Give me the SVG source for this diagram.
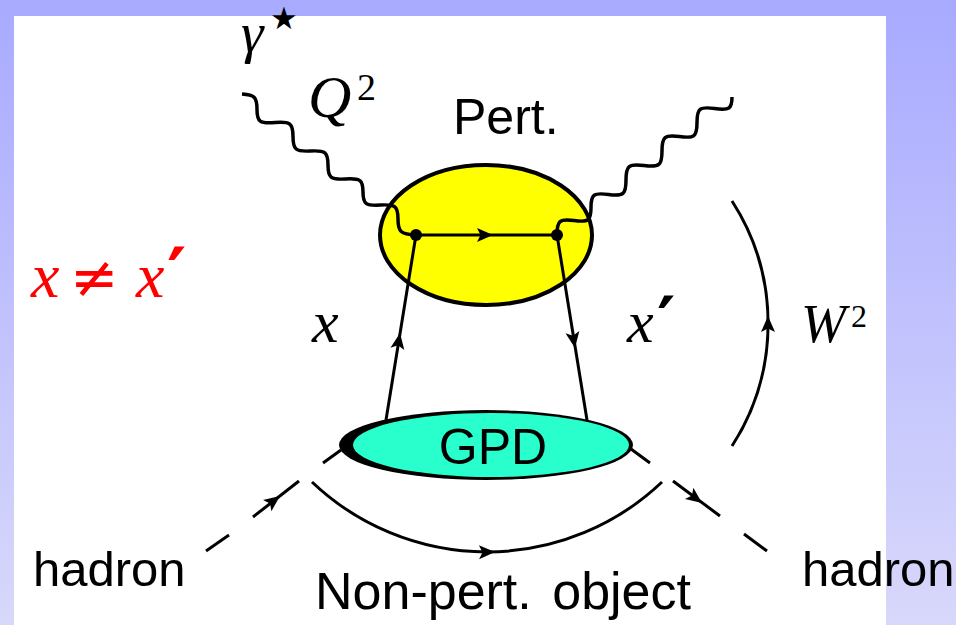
<svg xmlns="http://www.w3.org/2000/svg" width="956" height="625" viewBox="0 0 956 625">
<defs>
<linearGradient id="bg" x1="0" y1="0" x2="0" y2="1">
<stop offset="0" stop-color="#a8aaff"/>
<stop offset="1" stop-color="#d8d8fb"/>
</linearGradient>
<path id="arr" d="M0,0 L-16,-7 L-12.5,0 L-16,7 Z" fill="#000"/>
</defs>
<style>
.ln{fill:none;stroke:#000;stroke-width:3;stroke-linecap:butt}
.ph{fill:none;stroke:#000;stroke-width:3.5;stroke-linejoin:round}
.sans{font-family:"Liberation Sans",Arial,sans-serif;fill:#000}
.math{font-family:"Liberation Serif","Times New Roman",serif;font-style:italic;fill:#000}
.rm{font-family:"Liberation Serif","Times New Roman",serif;fill:#000}
.sym{font-family:"DejaVu Sans",sans-serif}
.prime{font-family:"DejaVu Sans",sans-serif;font-weight:bold;font-style:normal}
</style>
<rect x="0" y="0" width="956" height="625" fill="url(#bg)"/>
<rect x="14" y="16" width="872" height="609" fill="#fff"/>

<g id="pert-blob">
<ellipse cx="486" cy="235" rx="106" ry="70" fill="#ffff00" stroke="#000" stroke-width="4"/>
</g>

<g id="connectors">
<!-- virtual photon -->
<path class="ph" d="M242,94 C254.75,94.85 257,97.2 257,109.5 C257,121.8 259.7,123.8 275,122.5 C290.3,121.2 293,123.3 293,136.5 C293,149.7 295.6,151.85 310.5,151 C325.4,150.15 328,152.25 328,165 C328,177.75 330.6,179.85 345.5,179 C360.4,178.15 363,180.1 363,192 C363,203.9 365.6,205.85 380.5,205 C395.4,204.15 398,206.25 398,219 C398,231.75 400.7,234.15 416,235"/>
<!-- real photon -->
<path class="ph" d="M557,235 C557,220.55 559.55,218.4 574,220.5 C588.45,222.6 591,220.7 591,207.5 C591,194.3 593.6,192.4 608.5,194.5 C623.4,196.6 626,194.45 626,180 C626,165.55 628.7,163.4 644,165.5 C659.3,167.6 662,165.45 662,151 C662,136.55 664.6,134.4 679.5,136.5 C694.4,138.6 697,136.5 697,122.5 C697,108.5 699.6,106.4 714.5,108.5 C729.4,110.6 732,108.9 732,97"/>
<!-- quark lines -->
<line class="ln" x1="416" y1="235" x2="557" y2="235"/>
<line class="ln" x1="386" y1="420" x2="416" y2="235"/>
<line class="ln" x1="557" y1="235" x2="587" y2="420"/>
<use href="#arr" transform="translate(493,235)"/>
<use href="#arr" transform="translate(400,333) rotate(-80.7)"/>
<use href="#arr" transform="translate(575,348) rotate(80.7)"/>
<!-- hadron lines -->
<g class="ln" stroke-width="3.5">
<line x1="206" y1="551" x2="229" y2="535"/>
<line x1="253" y1="517" x2="299" y2="481"/>
<line x1="323" y1="463" x2="341" y2="450"/>
<line x1="631" y1="449" x2="650" y2="463"/>
<line x1="673" y1="481" x2="720" y2="516"/>
<line x1="744" y1="534" x2="767" y2="551"/>
</g>
<use href="#arr" transform="translate(280,496) rotate(-37)"/>
<use href="#arr" transform="translate(702,503) rotate(36.7)"/>
<!-- t arc -->
<path class="ln" d="M312,482 A254,254 0 0 0 662,482"/>
<use href="#arr" transform="translate(495,552) rotate(-1)"/>
<!-- W^2 arc -->
<path class="ln" d="M732,201 A226,226 0 0 1 732,446"/>
<use href="#arr" transform="translate(768,316) rotate(-90)"/>
<!-- vertices -->
<circle cx="416" cy="235" r="6" fill="#000"/>
<circle cx="557" cy="235" r="6" fill="#000"/>
</g>

<g id="gpd">
<ellipse cx="486" cy="445" rx="147" ry="35" fill="#000"/>
<ellipse cx="491" cy="445" rx="138" ry="32" fill="#29ffcc"/>
<text class="sans" x="493" y="464" font-size="50" text-anchor="middle">GPD</text>
</g>

<g id="labels">
<text class="sans" x="453" y="134" font-size="50">Pert.</text>
<text class="sans" x="315" y="609" font-size="52" word-spacing="6">Non-pert. object</text>
<text class="sans" x="33" y="586" font-size="49">hadron</text>
<text class="sans" x="802" y="586" font-size="49">hadron</text>
<text class="math" x="241" y="52" font-size="57">γ</text>
<text class="sym" x="270" y="29" font-size="31">★</text>
<text class="math" x="308" y="117" font-size="60">Q</text>
<text class="rm" x="357" y="100" font-size="38">2</text>
<text class="math" x="312" y="342" font-size="60">x</text>
<text class="math" x="627" y="342" font-size="60">x</text>
<text class="prime" x="657" y="346" font-size="70">′</text>
<text class="math" x="801" y="342" font-size="54">W</text>
<text class="rm" x="851" y="327" font-size="32">2</text>
<g fill="#ff0000">
<text class="math" x="31" y="297" font-size="64" style="fill:#ff0000">x</text>
<text class="sym" x="70" y="297" font-size="58" style="fill:#ff0000">≠</text>
<text class="math" x="136" y="297" font-size="64" style="fill:#ff0000">x</text>
<text class="prime" x="167" y="301" font-size="74" style="fill:#ff0000">′</text>
</g>
</g>
</svg>
